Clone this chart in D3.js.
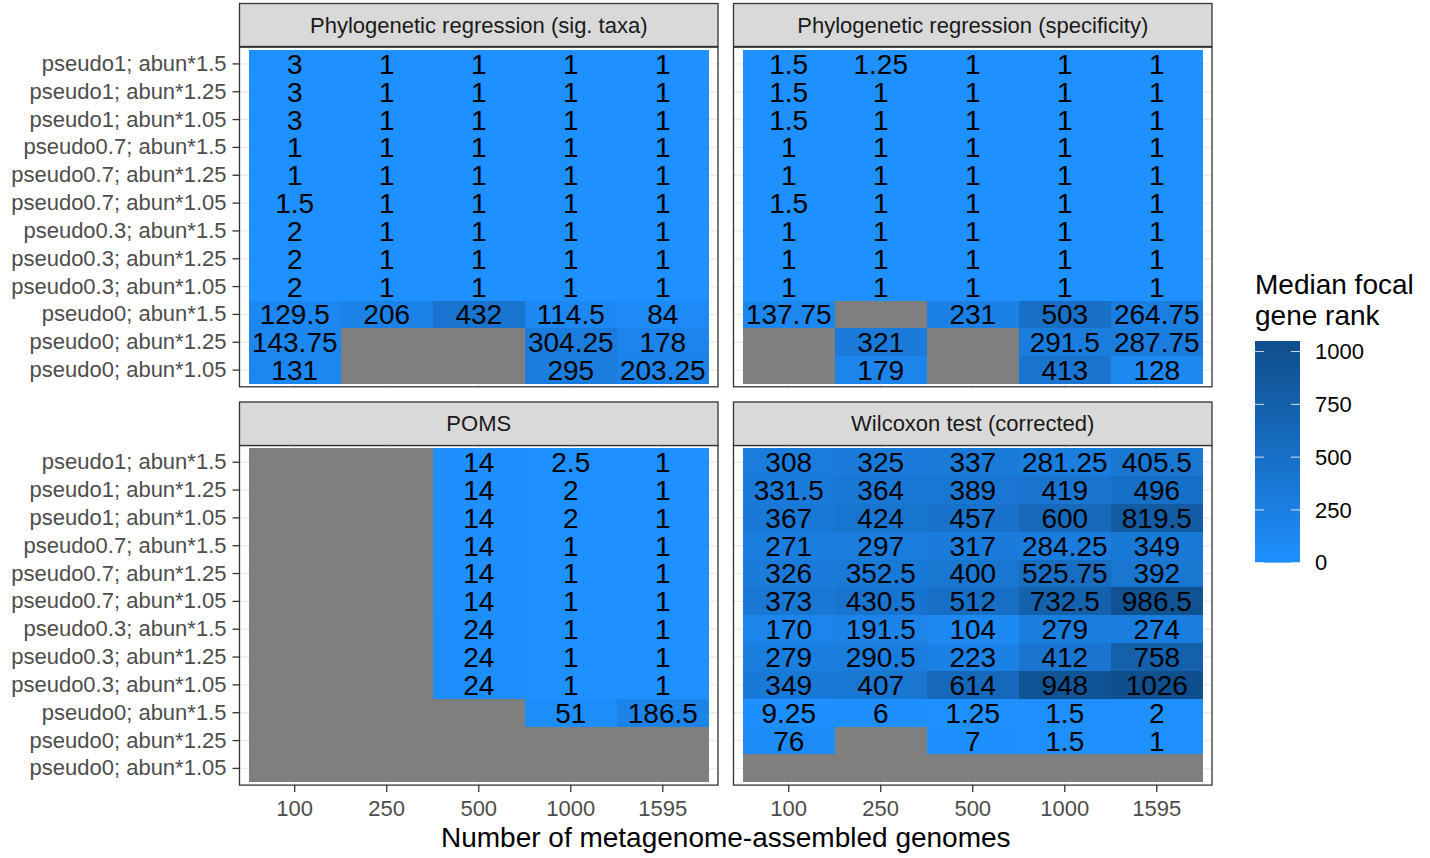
<!DOCTYPE html>
<html>
<head>
<meta charset="utf-8">
<script src="https://cdn.jsdelivr.net/npm/d3@7"></script>
<style>
  html, body { margin: 0; padding: 0; background: #ffffff; }
  svg { display: block; font-family: "Liberation Sans", Arial, Helvetica, sans-serif; }
</style>
</head>
<body>
<svg id="chart" width="1430" height="858"></svg>
<script>
// Simulation settings (rows, top to bottom) and number of MAGs (columns)
const settings = [
  "pseudo1; abun*1.5", "pseudo1; abun*1.25", "pseudo1; abun*1.05",
  "pseudo0.7; abun*1.5", "pseudo0.7; abun*1.25", "pseudo0.7; abun*1.05",
  "pseudo0.3; abun*1.5", "pseudo0.3; abun*1.25", "pseudo0.3; abun*1.05",
  "pseudo0; abun*1.5", "pseudo0; abun*1.25", "pseudo0; abun*1.05"
];
const mags = ["100", "250", "500", "1000", "1595"];

const methods = [
  "Phylogenetic regression (sig. taxa)",
  "Phylogenetic regression (specificity)",
  "POMS",
  "Wilcoxon test (corrected)"
];

// Median focal gene rank; null = no result
const sigTaxa = [
  [3, 1, 1, 1, 1],
  [3, 1, 1, 1, 1],
  [3, 1, 1, 1, 1],
  [1, 1, 1, 1, 1],
  [1, 1, 1, 1, 1],
  [1.5, 1, 1, 1, 1],
  [2, 1, 1, 1, 1],
  [2, 1, 1, 1, 1],
  [2, 1, 1, 1, 1],
  [129.5, 206, 432, 114.5, 84],
  [143.75, null, null, 304.25, 178],
  [131, null, null, 295, 203.25]
];
const specificity = [
  [1.5, 1.25, 1, 1, 1],
  [1.5, 1, 1, 1, 1],
  [1.5, 1, 1, 1, 1],
  [1, 1, 1, 1, 1],
  [1, 1, 1, 1, 1],
  [1.5, 1, 1, 1, 1],
  [1, 1, 1, 1, 1],
  [1, 1, 1, 1, 1],
  [1, 1, 1, 1, 1],
  [137.75, null, 231, 503, 264.75],
  [null, 321, null, 291.5, 287.75],
  [null, 179, null, 413, 128]
];
const poms = [
  [null, null, 14, 2.5, 1],
  [null, null, 14, 2, 1],
  [null, null, 14, 2, 1],
  [null, null, 14, 1, 1],
  [null, null, 14, 1, 1],
  [null, null, 14, 1, 1],
  [null, null, 24, 1, 1],
  [null, null, 24, 1, 1],
  [null, null, 24, 1, 1],
  [null, null, null, 51, 186.5],
  [null, null, null, null, null],
  [null, null, null, null, null]
];
const wilcoxon = [
  [308, 325, 337, 281.25, 405.5],
  [331.5, 364, 389, 419, 496],
  [367, 424, 457, 600, 819.5],
  [271, 297, 317, 284.25, 349],
  [326, 352.5, 400, 525.75, 392],
  [373, 430.5, 512, 732.5, 986.5],
  [170, 191.5, 104, 279, 274],
  [279, 290.5, 223, 412, 758],
  [349, 407, 614, 948, 1026],
  [9.25, 6, 1.25, 1.5, 2],
  [76, null, 7, 1.5, 1],
  [null, null, null, null, null]
];
const panelValues = [sigTaxa, specificity, poms, wilcoxon];

const legendTicks = [0, 250, 500, 750, 1000];

// ---- layout ----
const svg = d3.select("#chart");
const panelW = 478.5;
const colX = [239.5, 733.5];
const rowLayout = [
  { stripTop: 3.5, stripH: 43, panelTop: 47.2, panelH: 339.6 },
  { stripTop: 402, stripH: 43.5, panelTop: 445.5, panelH: 339.6 }
];

const NA_FILL = "#7f7f7f";
const fill = d3.scaleLinear()
  .domain([0, 1050])
  .range(["#1e90ff", "#104e8b"])
  .interpolate(d3.interpolateLab)
  .clamp(true);

const fmt = v => String(v);

methods.forEach((title, i) => {
  const col = i % 2, row = Math.floor(i / 2);
  const L = rowLayout[row];
  const x0 = colX[col];

  const x = d3.scaleBand().domain(mags).range([0, panelW]).paddingInner(0).paddingOuter(0.1);
  const y = d3.scaleBand().domain(settings).range([0, L.panelH]).paddingInner(0).paddingOuter(0.1);

  const g = svg.append("g").attr("transform", `translate(${x0},${L.panelTop})`);

  // panel background + grid
  g.append("rect").attr("width", panelW).attr("height", L.panelH).attr("fill", "#ffffff");
  g.selectAll("line.gx").data(mags).join("line")
    .attr("x1", d => x(d) + x.bandwidth() / 2).attr("x2", d => x(d) + x.bandwidth() / 2)
    .attr("y1", 0).attr("y2", L.panelH)
    .attr("stroke", "#ebebeb").attr("stroke-width", 1.4);
  g.selectAll("line.gy").data(settings).join("line")
    .attr("y1", d => y(d) + y.bandwidth() / 2).attr("y2", d => y(d) + y.bandwidth() / 2)
    .attr("x1", 0).attr("x2", panelW)
    .attr("stroke", "#ebebeb").attr("stroke-width", 1.4);

  // tiles
  const cells = [];
  panelValues[i].forEach((r, ri) => r.forEach((v, ci) => cells.push({ s: settings[ri], m: mags[ci], v })));

  g.selectAll("rect.tile").data(cells).join("rect")
    .attr("class", "tile")
    .attr("x", d => x(d.m)).attr("y", d => y(d.s))
    .attr("width", x.bandwidth()).attr("height", y.bandwidth())
    .attr("fill", d => d.v == null ? NA_FILL : fill(d.v))
    .attr("shape-rendering", "crispEdges");

  g.selectAll("text.val").data(cells.filter(d => d.v != null)).join("text")
    .attr("class", "val")
    .attr("x", d => x(d.m) + x.bandwidth() / 2)
    .attr("y", d => y(d.s) + y.bandwidth() / 2)
    .attr("dy", "0.355em")
    .attr("text-anchor", "middle")
    .attr("font-size", 28)
    .attr("fill", "#000000")
    .text(d => fmt(d.v));

  // panel border
  g.append("rect").attr("width", panelW).attr("height", L.panelH)
    .attr("fill", "none").attr("stroke", "#333333").attr("stroke-width", 1.3);

  // strip
  const sg = svg.append("g").attr("transform", `translate(${x0},${L.stripTop})`);
  sg.append("rect").attr("width", panelW).attr("height", L.stripH)
    .attr("fill", "#d9d9d9").attr("stroke", "#333333").attr("stroke-width", 1.3);
  sg.append("text").attr("x", panelW / 2).attr("y", L.stripH / 2).attr("dy", "0.35em")
    .attr("text-anchor", "middle").attr("font-size", 22).attr("fill", "#1a1a1a")
    .text(title);

  // y axis on left column
  if (col === 0) {
    const ya = svg.append("g").attr("transform", `translate(${x0},${L.panelTop})`)
      .call(d3.axisLeft(y).tickSize(7).tickPadding(6));
    ya.select(".domain").remove();
    ya.selectAll(".tick line").attr("stroke", "#333333").attr("stroke-width", 1.3);
    ya.selectAll(".tick text").attr("font-size", 22).attr("fill", "#4d4d4d")
      .attr("font-family", "Liberation Sans, Arial, sans-serif");
  }
  // x axis on bottom row
  if (row === 1) {
    const xa = svg.append("g").attr("transform", `translate(${x0},${L.panelTop + L.panelH})`)
      .call(d3.axisBottom(x).tickSize(7).tickPadding(8));
    xa.select(".domain").remove();
    xa.selectAll(".tick line").attr("stroke", "#333333").attr("stroke-width", 1.3);
    xa.selectAll(".tick text").attr("font-size", 22).attr("fill", "#4d4d4d")
      .attr("font-family", "Liberation Sans, Arial, sans-serif");
  }
});

// x axis title
svg.append("text")
  .attr("x", (colX[0] + colX[1] + panelW) / 2).attr("y", 847)
  .attr("text-anchor", "middle").attr("font-size", 28).attr("fill", "#000000")
  .text("Number of metagenome-assembled genomes");

// ---- colour bar legend ----
const lg = svg.append("g").attr("transform", "translate(1255,0)");
lg.append("text").attr("x", 0).attr("y", 294).attr("font-size", 28).attr("fill", "#000000").text("Median focal");
lg.append("text").attr("x", 0).attr("y", 325).attr("font-size", 28).attr("fill", "#000000").text("gene rank");

const barW = 45, barTop = 341, barBottom = 562.7;
const ly = d3.scaleLinear().domain(fill.domain()).range([barBottom, barTop]);
const defs = svg.append("defs");
const grad = defs.append("linearGradient").attr("id", "rankGrad")
  .attr("x1", 0).attr("y1", 1).attr("x2", 0).attr("y2", 0);
d3.range(0, 1.0001, 0.05).forEach(t => {
  const v = fill.domain()[0] + t * (fill.domain()[1] - fill.domain()[0]);
  grad.append("stop").attr("offset", t).attr("stop-color", fill(v));
});
lg.append("rect").attr("x", 0).attr("y", barTop).attr("width", barW).attr("height", barBottom - barTop)
  .attr("fill", "url(#rankGrad)");
legendTicks.forEach(t => {
  const yy = ly(t);
  lg.append("line").attr("x1", 0).attr("x2", 9).attr("y1", yy).attr("y2", yy)
    .attr("stroke", "#ffffff").attr("stroke-opacity", 0.8).attr("stroke-width", 1);
  lg.append("line").attr("x1", barW - 9).attr("x2", barW).attr("y1", yy).attr("y2", yy)
    .attr("stroke", "#ffffff").attr("stroke-opacity", 0.8).attr("stroke-width", 1);
  lg.append("text").attr("x", 60).attr("y", yy).attr("dy", "0.35em")
    .attr("font-size", 22).attr("fill", "#000000").text(t);
});
</script>
</body>
</html>
